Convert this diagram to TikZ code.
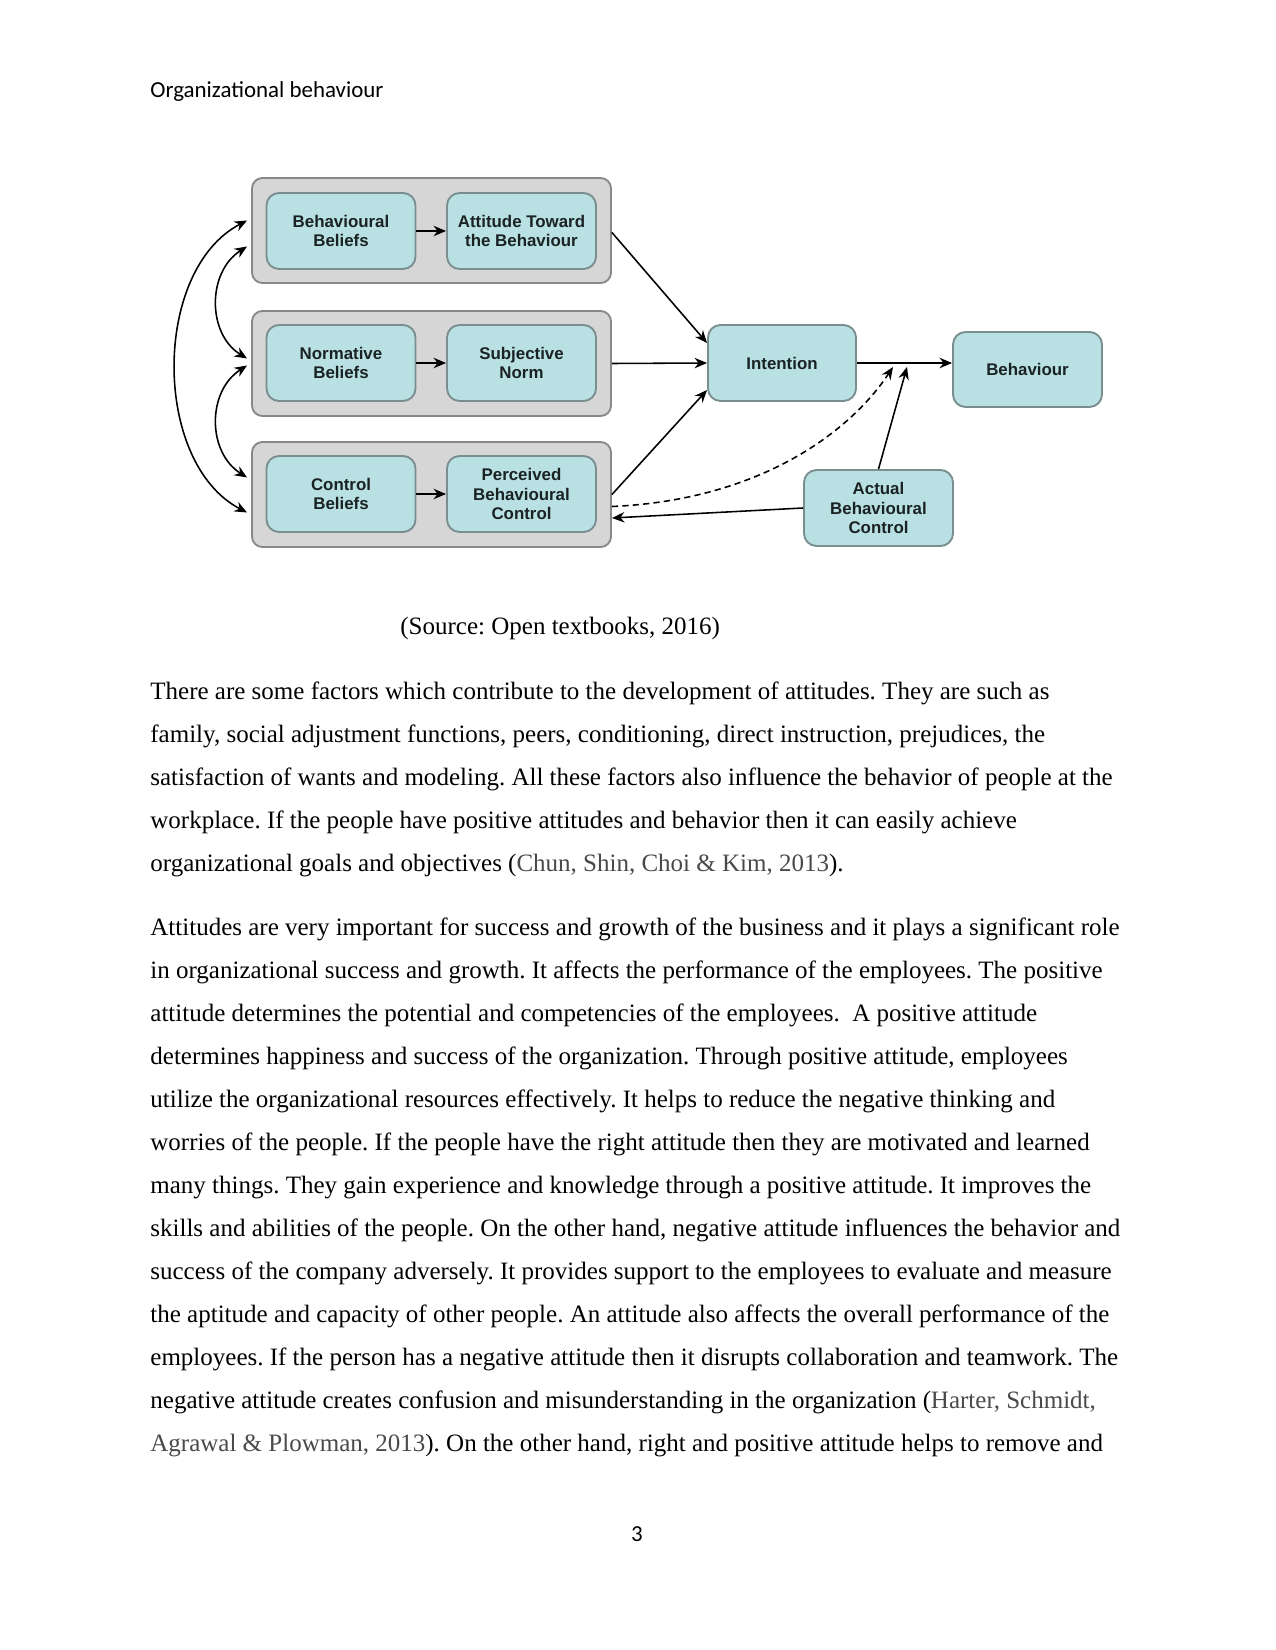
\documentclass[tikz,border=0pt]{standalone}
\usepackage{fontspec}
\setmainfont{Liberation Serif}
\newfontfamily\hdrfont{Carlito}
\newfontfamily\dgfont{Liberation Sans}
\usetikzlibrary{arrows.meta,calc}
\definecolor{boxfill}{HTML}{B9E0E2}
\definecolor{boxline}{HTML}{7A8E90}
\definecolor{grpfill}{HTML}{D6D6D6}
\definecolor{grpline}{HTML}{888888}
\definecolor{dgtext}{HTML}{1A2224}
\definecolor{citegray}{HTML}{4A4A4A}
\tikzset{
  grp/.style={draw=grpline, fill=grpfill, line width=0.9pt, rounded corners=5pt,
    minimum width=359*0.48pt, minimum height=105*0.48pt, inner sep=0pt},
  tbox/.style={draw=boxline, fill=boxfill, line width=0.9pt, rounded corners=6pt,
    minimum width=149*0.48pt, minimum height=76*0.48pt, inner sep=0pt, align=center,
    text=dgtext, font=\dgfont\bfseries\fontsize{8.1}{9.5}\selectfont},
  conn/.style={line width=0.75pt, -{Stealth[length=6pt,width=5pt]}},
  dconn/.style={conn, dash pattern=on 3pt off 2pt},
  both/.style={line width=0.75pt, {Stealth[length=6pt,width=5pt]}-{Stealth[length=6pt,width=5pt]}},
  body/.style={anchor=base west, inner sep=0pt, font=\fontsize{12}{14}\selectfont},
}
\newcommand{\citetxt}[1]{\textcolor{citegray}{#1}}
\frenchspacing
\begin{document}
\begin{tikzpicture}[x=0.48pt, y=-0.48pt]
\useasboundingbox (0,0) rectangle (1275,1650);
\fill[white] (0,0) rectangle (1275,1650);

% header
\node[anchor=base west, inner sep=0pt, font=\hdrfont\fontsize{11}{13}\selectfont] (hdr) at (150,98) {Organizational behaviour};

% groups
\node[grp] (g1) at (431.5,230.5) {};
\node[grp] (g2) at (431.5,363.5) {};
\node[grp] (g3) at (431.5,494.5) {};

% inner boxes
\node[tbox] (bb) at (341,231) {Behavioural\\Beliefs};
\node[tbox] (att) at (521.5,231) {Attitude Toward\\the Behaviour};
\node[tbox] (nb) at (341,363) {Normative\\Beliefs};
\node[tbox] (sn) at (521.5,363) {Subjective\\Norm};
\node[tbox] (cb) at (341,494) {Control\\Beliefs};
\node[tbox] (pbc) at (521.5,494) {Perceived\\Behavioural\\Control};
\node[tbox, minimum width=148*0.48pt] (int) at (782,363) {Intention};
\node[tbox, minimum height=75*0.48pt] (beh) at (1027.5,369.5) {Behaviour};
\node[tbox] (abc) at (878.5,508) {Actual\\Behavioural\\Control};

% within-group arrows
\draw[conn] (bb.east) -- (att.west);
\draw[conn] (nb.east) -- (sn.west);
\draw[conn] (cb.east) -- (pbc.west);

% left arcs
\coordinate (a1) at ($(g1.west)+(-4,-10)$);
\coordinate (a2) at ($(g1.west)+(-4,16)$);
\coordinate (b1) at ($(g2.west)+(-4,-5)$);
\coordinate (b2) at ($(g2.west)+(-4,2)$);
\coordinate (c1) at ($(g3.west)+(-4,-17)$);
\coordinate (c2) at ($(g3.west)+(-4,18)$);
\draw[both] (a1) .. controls (152,270) and (152,463) .. (c2);
\draw[both] (a2) .. controls (207,272) and (207,334) .. (b1);
\draw[both] (b2) .. controls (207,391) and (207,452) .. (c1);

% to intention
\draw[conn] ($(g1.east)+(0,2)$) -- ($(int.west)+(0,-20)$);
\draw[conn] (g2.east) -- (int.west);
\draw[conn] (g3.east) -- ($(int.west)+(0,27)$);

% intention to behaviour
\draw[conn] (int.east) -- (int.east -| beh.west);

% actual behavioural control
\coordinate (dtip) at (893,367);
\coordinate (stip) at (907,367);
\draw[dconn] ($(g3.east)+(0,12)$) .. controls (760,500) and (850,432) .. (dtip);
\draw[conn] (abc.north) -- (stip);
\draw[conn] (abc.west) -- ($(g3.east)+(0,23.5)$);

% caption
\node[body] (src) at (400,634) {(Source: Open textbooks, 2016)};

% paragraph 1
\node[body] (p1a) at (150,699) {There are some factors which contribute to the development of attitudes. They are such as};
\node[body] (p1b) at (150,742) {family, social adjustment functions, peers, conditioning, direct instruction, prejudices, the};
\node[body] (p1c) at (150,785) {satisfaction of wants and modeling. All these factors also influence the behavior of people at the};
\node[body] (p1d) at (150,828) {workplace. If the people have positive attitudes and behavior then it can easily achieve};
\node[body] (p1e) at (150,871) {organizational goals and objectives (\citetxt{Chun, Shin, Choi \& Kim, 2013}).};

% paragraph 2
\node[body] (p2a) at (150,935) {Attitudes are very important for success and growth of the business and it plays a significant role};
\node[body] (p2b) at (150,978) {in organizational success and growth. It affects the performance of the employees. The positive};
\node[body] (p2c) at (150,1021) {attitude determines the potential and competencies of the employees. \ A positive attitude};
\node[body] (p2d) at (150,1064) {determines happiness and success of the organization. Through positive attitude, employees};
\node[body] (p2e) at (150,1107) {utilize the organizational resources effectively. It helps to reduce the negative thinking and};
\node[body] (p2f) at (150,1150) {worries of the people. If the people have the right attitude then they are motivated and learned};
\node[body] (p2g) at (150,1193) {many things. They gain experience and knowledge through a positive attitude. It improves the};
\node[body] (p2h) at (150,1236) {skills and abilities of the people. On the other hand, negative attitude influences the behavior and};
\node[body] (p2i) at (150,1279) {success of the company adversely. It provides support to the employees to evaluate and measure};
\node[body] (p2j) at (150,1322) {the aptitude and capacity of other people. An attitude also affects the overall performance of the};
\node[body] (p2k) at (150,1365) {employees. If the person has a negative attitude then it disrupts collaboration and teamwork. The};
\node[body] (p2l) at (150,1408) {negative attitude creates confusion and misunderstanding in the organization (\citetxt{Harter, Schmidt,}};
\node[body] (p2m) at (150,1451) {\citetxt{Agrawal \& Plowman, 2013}). On the other hand, right and positive attitude helps to remove and};

% page number
\node[anchor=base, inner sep=0pt, font=\hdrfont\fontsize{11}{13}\selectfont] (pg) at (637,1541) {3};
\end{tikzpicture}
\end{document}
